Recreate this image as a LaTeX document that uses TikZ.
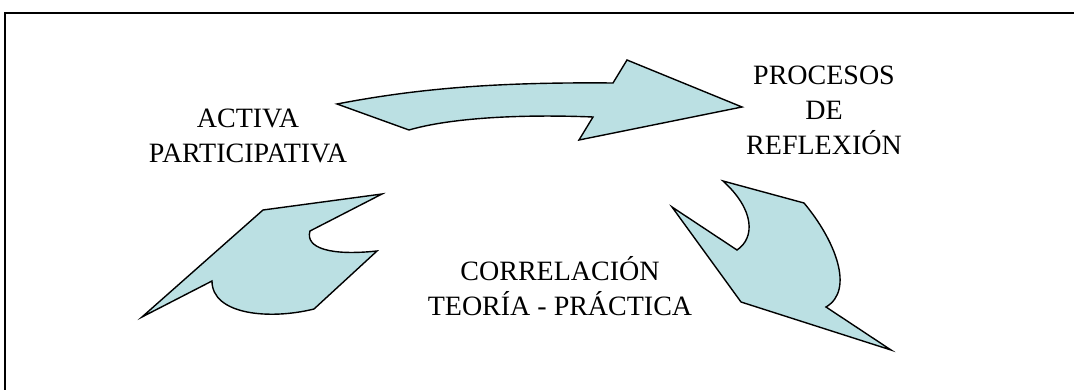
\documentclass[tikz,border=0pt]{standalone}
\usepackage{fontspec}
\setmainfont{Liberation Serif}
\definecolor{shapefill}{RGB}{187,224,227}
\tikzset{
  blob/.style={fill=shapefill, draw=black, line width=1.4pt, line join=miter},
  lbl/.style={anchor=base, inner sep=0pt, font=\fontsize{28}{35}\selectfont}
}
\begin{document}
\begin{tikzpicture}[x=1pt,y=-1pt]
\useasboundingbox (0,0) rectangle (1074,390);
% frame
\draw[line width=2pt] (4,13.5) -- (1074,13.5);
\draw[line width=1.3pt] (5,13.5) -- (5,390);
% top arrow
\path[blob] (337,104) .. controls (420,88) and (500,82) .. (613,83) -- (627,60) -- (742,107)
  -- (579,140) -- (593,117) .. controls (520,114) and (450,118) .. (409,130) -- cycle;
% right arrow
\path[blob] (723,181) -- (804,203) .. controls (835,240) and (855,290) .. (826,307) -- (891,350)
  -- (741,302) -- (672,207) -- (737,250) .. controls (755,238) and (755,210) .. (723,181) -- cycle;
% left arrow
\path[blob] (142,317) -- (263,210) -- (382,194) -- (310,231) .. controls (305,248) and (330,256) .. (377,251)
  -- (314,309) .. controls (270,320) and (212,315) .. (212,281) -- cycle;
% labels
\node[lbl] (a1) at (248,128) {ACTIVA};
\node[lbl] (a2) at (248,163) {PARTICIPATIVA};
\node[lbl] (p1) at (824,85) {PROCESOS};
\node[lbl] (p2) at (824,120) {DE};
\node[lbl] (p3) at (824,155) {REFLEXIÓN};
\node[lbl] (c1) at (560,280) {CORRELACIÓN};
\node[lbl] (c2) at (560,315) {TEORÍA - PRÁCTICA};
\end{tikzpicture}
\end{document}
